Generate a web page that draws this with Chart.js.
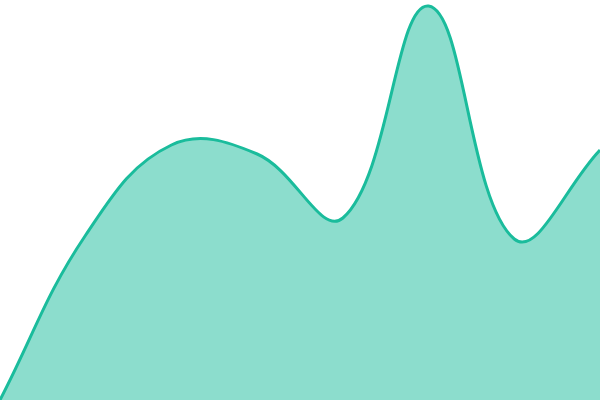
<!DOCTYPE html>
<html>
<head>
<meta charset="utf-8">
<style>
  html, body { margin: 0; padding: 0; background: #fff; }
  #wrap { width: 600px; height: 400px; }
</style>
<script src="https://cdn.jsdelivr.net/npm/chart.js@4"></script>
</head>
<body>
<div id="wrap"><canvas id="areaChart"></canvas></div>
<script>
// Data (no axes shown)
const labels = ['1', '2', '3', '4', '5', '6', '7', '8'];
const values = [0, 165, 255, 246, 182, 394, 161, 250];

// Axis range
const yMin = 0;
const yMax = 400;

const ctx = document.getElementById('areaChart');
new Chart(ctx, {
    type: 'line',
    data: {
        labels: labels,
        datasets: [{
            data: values,
            borderColor: '#1abc9c',
            backgroundColor: 'rgba(26, 188, 156, 0.5)',
            borderWidth: 3,
            fill: 'origin',
            tension: 0.4,
            pointRadius: 0
        }]
    },
    options: {
        responsive: true,
        maintainAspectRatio: false,
        animation: false,
        layout: { padding: 0 },
        plugins: {
            legend: { display: false },
            tooltip: { enabled: false }
        },
        scales: {
            x: { display: false, offset: false },
            y: { display: false, min: yMin, max: yMax }
        }
    }
});
</script>
</body>
</html>
